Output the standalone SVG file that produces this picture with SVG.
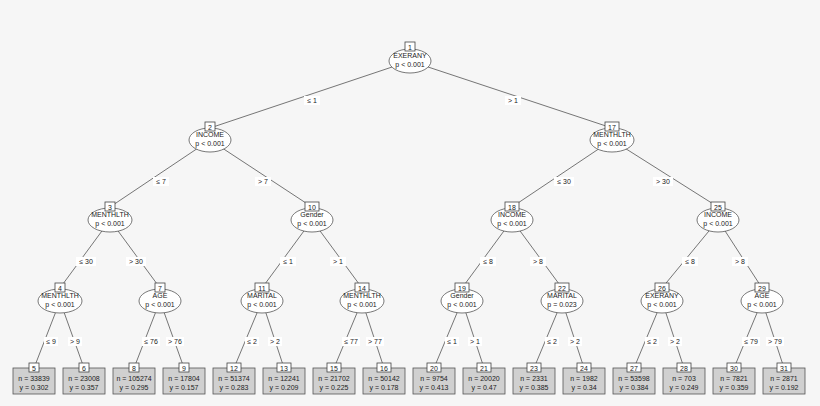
<svg xmlns="http://www.w3.org/2000/svg" width="820" height="406" viewBox="0 0 820 406">
<style>
text{font-family:"Liberation Sans",Arial,sans-serif;font-size:7px;fill:#222;text-anchor:middle}
.e{fill:#fff;stroke:#555;stroke-width:0.8}
.b{fill:#fff;stroke:#444;stroke-width:0.8}
.l{fill:#d0d0d0;stroke:#555;stroke-width:0.8}
.c line{stroke:#666;stroke-width:0.9}
.lb{fill:#fff}
</style>
<rect width="820" height="406" fill="#f6f6f6"/>
<g class="c" id="connectors">
<line x1="410" y1="61" x2="210" y2="128"/><line x1="410" y1="61" x2="612" y2="128"/>
<line x1="210" y1="140" x2="110" y2="207"/><line x1="210" y1="140" x2="312" y2="207"/>
<line x1="612" y1="140" x2="512" y2="207"/><line x1="612" y1="140" x2="718" y2="207"/>
<line x1="110" y1="220" x2="60" y2="288"/><line x1="110" y1="220" x2="160" y2="288"/>
<line x1="312" y1="220" x2="262" y2="288"/><line x1="312" y1="220" x2="362" y2="288"/>
<line x1="512" y1="220" x2="462" y2="288"/><line x1="512" y1="220" x2="562" y2="288"/>
<line x1="718" y1="220" x2="662" y2="288"/><line x1="718" y1="220" x2="762" y2="288"/>
<line x1="60" y1="301" x2="34" y2="368"/><line x1="60" y1="301" x2="84" y2="368"/>
<line x1="160" y1="301" x2="134" y2="368"/><line x1="160" y1="301" x2="184" y2="368"/>
<line x1="262" y1="301" x2="234" y2="368"/><line x1="262" y1="301" x2="284" y2="368"/>
<line x1="362" y1="301" x2="334" y2="368"/><line x1="362" y1="301" x2="384" y2="368"/>
<line x1="462" y1="301" x2="434" y2="368"/><line x1="462" y1="301" x2="484" y2="368"/>
<line x1="562" y1="301" x2="534" y2="368"/><line x1="562" y1="301" x2="584" y2="368"/>
<line x1="662" y1="301" x2="634" y2="368"/><line x1="662" y1="301" x2="684" y2="368"/>
<line x1="762" y1="301" x2="734" y2="368"/><line x1="762" y1="301" x2="784" y2="368"/>
</g>
<g id="edge-labels">
<rect class="lb" x="304" y="96" width="16" height="9"/><text x="312" y="103">≤ 1</text>
<rect class="lb" x="505" y="96" width="16" height="9"/><text x="513" y="103">&gt; 1</text>
<rect class="lb" x="153" y="177" width="16" height="9"/><text x="161" y="184">≤ 7</text>
<rect class="lb" x="255" y="177" width="16" height="9"/><text x="263" y="184">&gt; 7</text>
<rect class="lb" x="554" y="177" width="20" height="9"/><text x="564" y="184">≤ 30</text>
<rect class="lb" x="653" y="177" width="20" height="9"/><text x="663" y="184">&gt; 30</text>
<rect class="lb" x="76" y="257" width="20" height="9"/><text x="86" y="264">≤ 30</text>
<rect class="lb" x="126" y="257" width="20" height="9"/><text x="136" y="264">&gt; 30</text>
<rect class="lb" x="280" y="257" width="16" height="9"/><text x="288" y="264">≤ 1</text>
<rect class="lb" x="330" y="257" width="16" height="9"/><text x="338" y="264">&gt; 1</text>
<rect class="lb" x="480" y="257" width="16" height="9"/><text x="488" y="264">≤ 8</text>
<rect class="lb" x="530" y="257" width="16" height="9"/><text x="538" y="264">&gt; 8</text>
<rect class="lb" x="682" y="257" width="16" height="9"/><text x="690" y="264">≤ 8</text>
<rect class="lb" x="732" y="257" width="16" height="9"/><text x="740" y="264">&gt; 8</text>
<rect class="lb" x="44" y="337" width="14" height="9"/><text x="51" y="344">≤ 9</text>
<rect class="lb" x="68" y="337" width="14" height="9"/><text x="75" y="344">&gt; 9</text>
<rect class="lb" x="142" y="337" width="18" height="9"/><text x="151" y="344">≤ 76</text>
<rect class="lb" x="166" y="337" width="18" height="9"/><text x="175" y="344">&gt; 76</text>
<rect class="lb" x="245" y="337" width="14" height="9"/><text x="252" y="344">≤ 2</text>
<rect class="lb" x="268" y="337" width="14" height="9"/><text x="275" y="344">&gt; 2</text>
<rect class="lb" x="342" y="337" width="18" height="9"/><text x="351" y="344">≤ 77</text>
<rect class="lb" x="366" y="337" width="18" height="9"/><text x="375" y="344">&gt; 77</text>
<rect class="lb" x="445" y="337" width="14" height="9"/><text x="452" y="344">≤ 1</text>
<rect class="lb" x="468" y="337" width="14" height="9"/><text x="475" y="344">&gt; 1</text>
<rect class="lb" x="545" y="337" width="14" height="9"/><text x="552" y="344">≤ 2</text>
<rect class="lb" x="568" y="337" width="14" height="9"/><text x="575" y="344">&gt; 2</text>
<rect class="lb" x="645" y="337" width="14" height="9"/><text x="652" y="344">≤ 2</text>
<rect class="lb" x="668" y="337" width="14" height="9"/><text x="675" y="344">&gt; 2</text>
<rect class="lb" x="742" y="337" width="18" height="9"/><text x="751" y="344">≤ 79</text>
<rect class="lb" x="766" y="337" width="18" height="9"/><text x="775" y="344">&gt; 79</text>
</g>
<g id="n1"><ellipse class="e" cx="410" cy="61" rx="21" ry="12"/><rect class="b" x="405" y="42" width="10" height="9"/><text x="410" y="49.5">1</text><text x="410" y="58">EXERANY</text><text x="410" y="67">p &lt; 0.001</text></g>
<g id="n2"><ellipse class="e" cx="210" cy="140" rx="21" ry="12"/><rect class="b" x="205" y="122" width="10" height="9"/><text x="210" y="129.5">2</text><text x="210" y="137">INCOME</text><text x="210" y="146">p &lt; 0.001</text></g>
<g id="n17"><ellipse class="e" cx="612" cy="140" rx="22" ry="12"/><rect class="b" x="605" y="122" width="14" height="9"/><text x="612" y="129.5">17</text><text x="612" y="137">MENTHLTH</text><text x="612" y="146">p &lt; 0.001</text></g>
<g id="n3"><ellipse class="e" cx="110" cy="220" rx="22" ry="12"/><rect class="b" x="105" y="202" width="10" height="9"/><text x="110" y="209.5">3</text><text x="110" y="217">MENTHLTH</text><text x="110" y="226">p &lt; 0.001</text></g>
<g id="n10"><ellipse class="e" cx="312" cy="220" rx="21" ry="12"/><rect class="b" x="305" y="202" width="14" height="9"/><text x="312" y="209.5">10</text><text x="312" y="217">Gender</text><text x="312" y="226">p &lt; 0.001</text></g>
<g id="n18"><ellipse class="e" cx="512" cy="220" rx="21" ry="12"/><rect class="b" x="505" y="202" width="14" height="9"/><text x="512" y="209.5">18</text><text x="512" y="217">INCOME</text><text x="512" y="226">p &lt; 0.001</text></g>
<g id="n25"><ellipse class="e" cx="718" cy="220" rx="21" ry="12"/><rect class="b" x="711" y="202" width="14" height="9"/><text x="718" y="209.5">25</text><text x="718" y="217">INCOME</text><text x="718" y="226">p &lt; 0.001</text></g>
<g id="n4"><ellipse class="e" cx="60" cy="301" rx="22" ry="12"/><rect class="b" x="55" y="283" width="10" height="9"/><text x="60" y="290.5">4</text><text x="60" y="298">MENTHLTH</text><text x="60" y="307">p &lt; 0.001</text></g>
<g id="n7"><ellipse class="e" cx="160" cy="301" rx="21" ry="12"/><rect class="b" x="155" y="283" width="10" height="9"/><text x="160" y="290.5">7</text><text x="160" y="298">AGE</text><text x="160" y="307">p &lt; 0.001</text></g>
<g id="n11"><ellipse class="e" cx="262" cy="301" rx="21" ry="12"/><rect class="b" x="255" y="283" width="14" height="9"/><text x="262" y="290.5">11</text><text x="262" y="298">MARITAL</text><text x="262" y="307">p &lt; 0.001</text></g>
<g id="n14"><ellipse class="e" cx="362" cy="301" rx="22" ry="12"/><rect class="b" x="355" y="283" width="14" height="9"/><text x="362" y="290.5">14</text><text x="362" y="298">MENTHLTH</text><text x="362" y="307">p &lt; 0.001</text></g>
<g id="n19"><ellipse class="e" cx="462" cy="301" rx="21" ry="12"/><rect class="b" x="455" y="283" width="14" height="9"/><text x="462" y="290.5">19</text><text x="462" y="298">Gender</text><text x="462" y="307">p &lt; 0.001</text></g>
<g id="n22"><ellipse class="e" cx="562" cy="301" rx="21" ry="12"/><rect class="b" x="555" y="283" width="14" height="9"/><text x="562" y="290.5">22</text><text x="562" y="298">MARITAL</text><text x="562" y="307">p = 0.023</text></g>
<g id="n26"><ellipse class="e" cx="662" cy="301" rx="21" ry="12"/><rect class="b" x="655" y="283" width="14" height="9"/><text x="662" y="290.5">26</text><text x="662" y="298">EXERANY</text><text x="662" y="307">p &lt; 0.001</text></g>
<g id="n29"><ellipse class="e" cx="762" cy="301" rx="21" ry="12"/><rect class="b" x="755" y="283" width="14" height="9"/><text x="762" y="290.5">29</text><text x="762" y="298">AGE</text><text x="762" y="307">p &lt; 0.001</text></g>
<g id="n5"><rect class="l" x="13" y="368" width="42" height="26"/><rect class="b" x="29" y="363" width="10" height="9"/><text x="34" y="370.5">5</text><text x="34" y="381">n = 33839</text><text x="34" y="390">y = 0.302</text></g>
<g id="n6"><rect class="l" x="63" y="368" width="42" height="26"/><rect class="b" x="79" y="363" width="10" height="9"/><text x="84" y="370.5">6</text><text x="84" y="381">n = 23008</text><text x="84" y="390">y = 0.357</text></g>
<g id="n8"><rect class="l" x="113" y="368" width="42" height="26"/><rect class="b" x="129" y="363" width="10" height="9"/><text x="134" y="370.5">8</text><text x="134" y="381">n = 105274</text><text x="134" y="390">y = 0.295</text></g>
<g id="n9"><rect class="l" x="163" y="368" width="42" height="26"/><rect class="b" x="179" y="363" width="10" height="9"/><text x="184" y="370.5">9</text><text x="184" y="381">n = 17804</text><text x="184" y="390">y = 0.157</text></g>
<g id="n12"><rect class="l" x="213" y="368" width="42" height="26"/><rect class="b" x="227" y="363" width="14" height="9"/><text x="234" y="370.5">12</text><text x="234" y="381">n = 51374</text><text x="234" y="390">y = 0.283</text></g>
<g id="n13"><rect class="l" x="263" y="368" width="42" height="26"/><rect class="b" x="277" y="363" width="14" height="9"/><text x="284" y="370.5">13</text><text x="284" y="381">n = 12241</text><text x="284" y="390">y = 0.209</text></g>
<g id="n15"><rect class="l" x="313" y="368" width="42" height="26"/><rect class="b" x="327" y="363" width="14" height="9"/><text x="334" y="370.5">15</text><text x="334" y="381">n = 21702</text><text x="334" y="390">y = 0.225</text></g>
<g id="n16"><rect class="l" x="363" y="368" width="42" height="26"/><rect class="b" x="377" y="363" width="14" height="9"/><text x="384" y="370.5">16</text><text x="384" y="381">n = 50142</text><text x="384" y="390">y = 0.178</text></g>
<g id="n20"><rect class="l" x="413" y="368" width="42" height="26"/><rect class="b" x="427" y="363" width="14" height="9"/><text x="434" y="370.5">20</text><text x="434" y="381">n = 9754</text><text x="434" y="390">y = 0.413</text></g>
<g id="n21"><rect class="l" x="463" y="368" width="42" height="26"/><rect class="b" x="477" y="363" width="14" height="9"/><text x="484" y="370.5">21</text><text x="484" y="381">n = 20020</text><text x="484" y="390">y = 0.47</text></g>
<g id="n23"><rect class="l" x="513" y="368" width="42" height="26"/><rect class="b" x="527" y="363" width="14" height="9"/><text x="534" y="370.5">23</text><text x="534" y="381">n = 2331</text><text x="534" y="390">y = 0.385</text></g>
<g id="n24"><rect class="l" x="563" y="368" width="42" height="26"/><rect class="b" x="577" y="363" width="14" height="9"/><text x="584" y="370.5">24</text><text x="584" y="381">n = 1982</text><text x="584" y="390">y = 0.34</text></g>
<g id="n27"><rect class="l" x="613" y="368" width="42" height="26"/><rect class="b" x="627" y="363" width="14" height="9"/><text x="634" y="370.5">27</text><text x="634" y="381">n = 53598</text><text x="634" y="390">y = 0.384</text></g>
<g id="n28"><rect class="l" x="663" y="368" width="42" height="26"/><rect class="b" x="677" y="363" width="14" height="9"/><text x="684" y="370.5">28</text><text x="684" y="381">n = 703</text><text x="684" y="390">y = 0.249</text></g>
<g id="n30"><rect class="l" x="713" y="368" width="42" height="26"/><rect class="b" x="727" y="363" width="14" height="9"/><text x="734" y="370.5">30</text><text x="734" y="381">n = 7821</text><text x="734" y="390">y = 0.359</text></g>
<g id="n31"><rect class="l" x="763" y="368" width="42" height="26"/><rect class="b" x="777" y="363" width="14" height="9"/><text x="784" y="370.5">31</text><text x="784" y="381">n = 2871</text><text x="784" y="390">y = 0.192</text></g>
</svg>
